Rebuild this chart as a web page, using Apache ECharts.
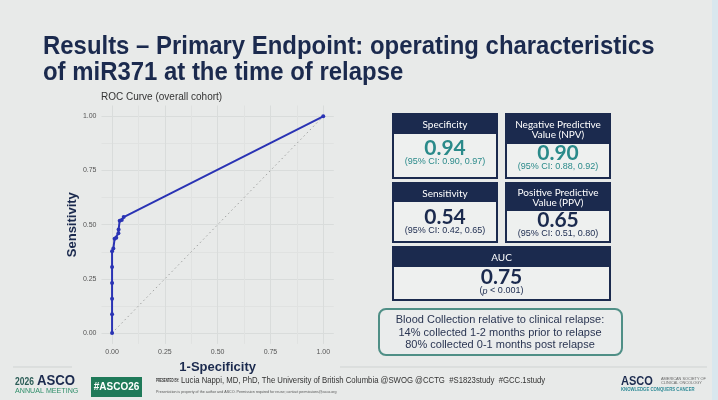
<!DOCTYPE html>
<html>
<head>
<meta charset="utf-8">
<script src="https://cdn.jsdelivr.net/npm/echarts@6/dist/echarts.min.js"></script>
<style>
  html, body { margin: 0; padding: 0; background: #e8eae9; }
  #chart { width: 718px; height: 400px; }
</style>
</head>
<body>
<div id="chart"></div>
<script>
// ROC curve points: [1-specificity, sensitivity]
const rocPoints = [
  [0, 0], [0, 0.087], [0, 0.158], [0, 0.231], [0, 0.305], [0, 0.377],
  [0.006, 0.39], [0.012, 0.435], [0.02, 0.44], [0.03, 0.46], [0.031, 0.478],
  [0.036, 0.518], [0.046, 0.522], [0.055, 0.535], [1, 1]
];
const chanceLine = [[0, 0], [1, 1]];
const tickValues = [0, 0.25, 0.5, 0.75, 1];
const gridValues = [0, 0.125, 0.25, 0.375, 0.5, 0.625, 0.75, 0.875, 1];

const metricNames = ['Specificity', 'Negative Predictive\nValue (NPV)', 'Sensitivity', 'Positive Predictive\nValue (PPV)', 'AUC'];
const metricValues = ['0.94', '0.90', '0.54', '0.65', '0.75'];
const metricNotes = ['(95% CI: 0.90, 0.97)', '(95% CI: 0.88, 0.92)', '(95% CI: 0.42, 0.65)', '(95% CI: 0.51, 0.80)', '({i|p} < 0.001)'];
const blueLines = ['Blood Collection relative to clinical relapse:', '14% collected 1-2 months prior to relapse', '80% collected 0-1 months post relapse'];

const NAVY = '#1b2a4e';
const TEAL = '#2a8a8a';
const SANS = '"Liberation Sans", Arial, sans-serif';
const BOXF = 'Lato, "Noto Sans", sans-serif';

// box layout: x, y, w, h, header height, value y, note y, value colour
const boxLayout = [
  [393, 114, 104, 64, 20, 148, 162, TEAL],
  [506, 114, 104, 64, 30, 153, 167, TEAL],
  [393, 183, 104, 59, 19, 217, 231, NAVY],
  [506, 183, 104, 59, 28, 220, 234, NAVY],
  [393, 247, 217, 53, 20, 277, 291, NAVY]
];

const graphics = [];

// right edge of the slide
graphics.push({ type: 'rect', shape: { x: 712, y: 0, width: 6, height: 400 }, style: { fill: '#d9e7ee' } });

// title
graphics.push({
  type: 'text', x: 43, y: 47, scaleX: 0.92,
  style: { text: 'Results \u2013 Primary Endpoint: operating characteristics', font: 'bold 26px ' + SANS, fill: NAVY, verticalAlign: 'middle' }
});
graphics.push({
  type: 'text', x: 43, y: 73, scaleX: 0.92,
  style: { text: 'of miR371 at the time of relapse', font: 'bold 26px ' + SANS, fill: NAVY, verticalAlign: 'middle' }
});
graphics.push({
  type: 'text', x: 101, y: 97,
  style: { text: 'ROC Curve (overall cohort)', font: '10px ' + SANS, fill: '#333', verticalAlign: 'middle' }
});

// metric boxes
boxLayout.forEach((b, i) => {
  const [x, y, w, h, hh, vy, ny, col] = b;
  graphics.push({ type: 'rect', shape: { x: x, y: y, width: w, height: h }, style: { fill: '#eef0ef', stroke: NAVY, lineWidth: 2 } });
  graphics.push({ type: 'rect', shape: { x: x, y: y, width: w, height: hh }, style: { fill: NAVY } });
  graphics.push({
    type: 'text', x: x + w / 2, y: y + hh / 2 + 1,
    style: { text: metricNames[i], font: '10px ' + BOXF, fill: '#fff', align: 'center', verticalAlign: 'middle', lineHeight: 10 }
  });
  graphics.push({
    type: 'text', x: x + w / 2, y: vy,
    style: { text: metricValues[i], font: 'bold 21px ' + BOXF, fill: col, align: 'center', verticalAlign: 'middle' }
  });
  graphics.push({
    type: 'text', x: x + w / 2, y: ny,
    style: {
      text: metricNotes[i], font: '9px ' + SANS, fill: col, align: 'center', verticalAlign: 'middle',
      rich: { i: { fontStyle: 'italic', fontSize: 9, fontFamily: SANS, fill: col } }
    }
  });
});

// blood collection note
graphics.push({ type: 'rect', shape: { x: 379, y: 309, width: 243, height: 46, r: 7 }, style: { fill: '#eaecec', stroke: '#4f8f86', lineWidth: 2 } });
blueLines.forEach((t, i) => {
  graphics.push({
    type: 'text', x: 500, y: 320 + i * 12.5,
    style: { text: t, font: '11px ' + SANS, fill: '#2a3552', align: 'center', verticalAlign: 'middle' }
  });
});

// footer
graphics.push({ type: 'line', shape: { x1: 13, y1: 367, x2: 72, y2: 367 }, style: { stroke: '#cfd3d2', lineWidth: 1 } });
graphics.push({ type: 'line', shape: { x1: 340, y1: 367, x2: 707, y2: 367 }, style: { stroke: '#cfd3d2', lineWidth: 1 } });
graphics.push({
  type: 'text', x: 15, y: 382, scaleX: 0.85,
  style: { text: '2026', font: 'bold 10px ' + SANS, fill: '#2b5d57', verticalAlign: 'middle' }
});
graphics.push({
  type: 'text', x: 37, y: 381, scaleX: 0.88,
  style: { text: 'ASCO', font: 'bold 15px ' + SANS, fill: NAVY, verticalAlign: 'middle' }
});
graphics.push({
  type: 'text', x: 15, y: 391, scaleX: 0.95,
  style: { text: 'ANNUAL MEETING', font: '7.5px ' + SANS, fill: '#2f8f6a', verticalAlign: 'middle' }
});
graphics.push({ type: 'rect', shape: { x: 91, y: 377, width: 51, height: 20 }, style: { fill: '#1f7a59' } });
graphics.push({
  type: 'text', x: 116.5, y: 387,
  style: { text: '#ASCO26', font: 'bold 10px ' + SANS, fill: '#fff', align: 'center', verticalAlign: 'middle' }
});
graphics.push({
  type: 'text', x: 156, y: 381, scaleX: 0.6,
  style: { text: 'PRESENTED BY:', font: 'bold 4.8px ' + SANS, fill: '#333', verticalAlign: 'middle' }
});
graphics.push({
  type: 'text', x: 181, y: 381, scaleX: 0.86,
  style: { text: 'Lucia Nappi, MD, PhD, The University of British Columbia @SWOG @CCTG  #S1823study  #GCC.1study', font: '9px ' + SANS, fill: '#333', verticalAlign: 'middle' }
});
graphics.push({
  type: 'text', x: 156, y: 392, scaleX: 0.85,
  style: { text: 'Presentation is property of the author and ASCO. Permission required for reuse; contact permissions@asco.org', font: '4.3px ' + SANS, fill: '#555', verticalAlign: 'middle' }
});
graphics.push({
  type: 'text', x: 621, y: 381, scaleX: 0.85,
  style: { text: 'ASCO', font: 'bold 13px ' + SANS, fill: NAVY, verticalAlign: 'middle' }
});
graphics.push({
  type: 'text', x: 661, y: 381, scaleX: 0.9,
  style: { text: 'AMERICAN SOCIETY OF\nCLINICAL ONCOLOGY', font: '4.3px ' + SANS, fill: '#666', verticalAlign: 'middle', lineHeight: 4.5 }
});
graphics.push({
  type: 'text', x: 621, y: 389.5, scaleX: 0.93,
  style: { text: 'KNOWLEDGE CONQUERS CANCER', font: 'bold 4.6px ' + SANS, fill: '#2d8a96', verticalAlign: 'middle' }
});

const axisCommon = {
  type: 'value', min: -0.05, max: 1.05,
  axisLine: { show: false },
  axisTick: { show: false, customValues: gridValues },
  axisLabel: { customValues: tickValues, formatter: v => v.toFixed(2), fontSize: 7, color: '#555', fontFamily: SANS, margin: 5 },
  splitLine: { show: true, lineStyle: { color: ['#d9dcdb', '#e0e2e1'], width: 1 } },
  nameLocation: 'middle',
  nameTextStyle: { fontWeight: 'bold', fontSize: 13, color: NAVY, fontFamily: SANS }
};

const chart = echarts.init(document.getElementById('chart'), null, { renderer: 'canvas' });
chart.setOption({
  backgroundColor: '#e8eae9',
  animation: false,
  grid: { left: 101.5, top: 105.5, width: 232.3, height: 238.4 },
  xAxis: Object.assign({}, axisCommon, { name: '1-Specificity', nameGap: 14 }),
  yAxis: Object.assign({}, axisCommon, { name: 'Sensitivity', nameGap: 16 }),
  series: [
    {
      type: 'line', data: chanceLine, symbol: 'none', silent: true,
      lineStyle: { color: '#a0a2a1', width: 1, type: [1.5, 3] }
    },
    {
      type: 'line', data: rocPoints, symbol: 'circle', symbolSize: 4,
      itemStyle: { color: '#2a33b4' },
      lineStyle: { color: '#2a33b4', width: 2 }
    }
  ],
  graphic: graphics
});
</script>
</body>
</html>
